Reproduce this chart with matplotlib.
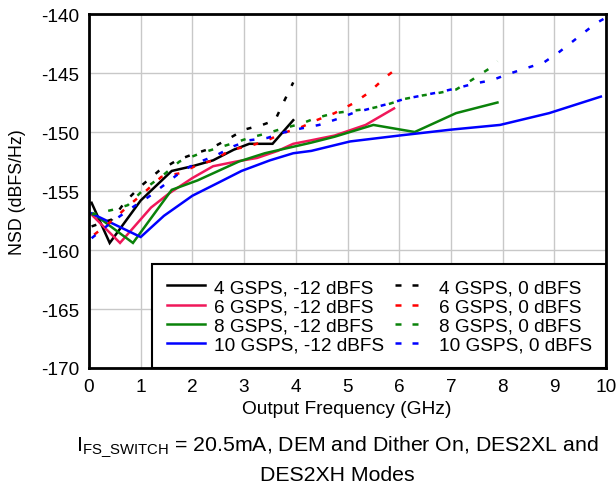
import matplotlib
matplotlib.use("Agg")
import matplotlib.pyplot as plt
from matplotlib.lines import Line2D

plt.rcParams['font.family'] = ['Liberation Sans', 'DejaVu Sans']
plt.rcParams['mathtext.fontset'] = 'custom'
plt.rcParams['mathtext.rm'] = 'Liberation Sans'
plt.rcParams['mathtext.it'] = 'Liberation Sans:italic'
plt.rcParams['axes.unicode_minus'] = False

#Data (GHz, dBFS/Hz)
f_4g_m12 = [0.05, 0.4, 1.0, 1.6, 2.0, 2.4, 2.8, 3.1, 3.55, 3.95]
nsd_4g_m12 = [-156.0, -159.4, -155.8, -153.3, -152.9, -152.4, -151.5, -151.0, -151.0, -149.0]

f_6g_m12 = [0.05, 0.6, 1.2, 1.55, 2.0, 2.4, 2.85, 3.25, 3.65, 3.95, 4.3, 4.75, 5.35, 5.9]
nsd_6g_m12 = [-157.0, -159.4, -156.4, -155.2, -153.9, -152.9, -152.5, -152.2, -151.6, -151.0, -150.7, -150.3, -149.4, -148.0]

f_8g_m12 = [0.08, 0.85, 1.6, 2.1, 2.5, 2.9, 3.4, 3.8, 4.3, 4.75, 5.5, 6.3, 7.1, 7.9]
nsd_8g_m12 = [-156.9, -159.4, -154.9, -154.1, -153.3, -152.5, -151.8, -151.4, -150.9, -150.4, -149.4, -150.0, -148.4, -147.5]

f_10g_m12 = [0.05, 1.0, 1.45, 2.0, 2.5, 2.95, 3.5, 3.95, 4.3, 5.05, 6.0, 7.0, 7.95, 8.9, 9.9]
nsd_10g_m12 = [-156.9, -158.9, -157.1, -155.4, -154.3, -153.3, -152.4, -151.8, -151.6, -150.8, -150.3, -149.8, -149.4, -148.4, -147.0]

f_4g_0 = [0.05, 0.45, 0.7, 1.0, 1.35, 1.7, 2.0, 2.35, 2.65, 3.0, 3.35, 3.6, 3.75, 3.95]
nsd_4g_0 = [-158.0, -157.4, -155.9, -154.6, -153.3, -152.4, -151.9, -151.4, -150.7, -149.8, -149.4, -149.0, -147.6, -145.8]

f_6g_0 = [0.1, 0.45, 0.75, 1.1, 1.4, 1.75, 2.1, 2.4, 2.75, 3.1, 3.45, 3.75, 4.1, 4.4, 4.75, 5.1, 5.4, 5.75, 5.9]
nsd_6g_0 = [-158.7, -157.5, -156.3, -155.0, -153.8, -153.5, -152.8, -152.4, -151.5, -151.2, -150.7, -150.1, -149.6, -149.0, -148.4, -147.6, -146.7, -145.3, -144.8]

f_8g_0 = [0.05, 0.45, 0.75, 1.05, 1.45, 1.75, 2.1, 2.45, 2.75, 3.1, 3.45, 3.75, 4.1, 4.4, 4.75, 5.1, 5.45, 5.75, 6.1, 6.45, 6.75, 7.1, 7.4, 7.75, 7.9]
nsd_8g_0 = [-157.0, -156.6, -156.2, -154.9, -153.6, -152.5, -151.9, -151.4, -151.0, -150.5, -150.1, -149.7, -149.3, -148.8, -148.4, -148.2, -148.0, -147.7, -147.2, -146.9, -146.7, -146.4, -145.6, -144.6, -144.0]

f_10g_0 = [0.05, 0.45, 0.8, 1.15, 1.45, 1.8, 2.1, 2.45, 2.8, 3.1, 3.45, 3.8, 4.1, 4.45, 4.8, 5.1, 5.45, 5.8, 6.1, 6.45, 6.8, 7.1, 7.45, 7.8, 8.1, 8.45, 8.8, 9.1, 9.45, 9.8, 10.0]
nsd_10g_0 = [-159.0, -157.6, -156.5, -155.5, -154.5, -153.3, -152.6, -152.0, -151.2, -150.7, -150.5, -150.0, -149.7, -149.4, -148.9, -148.4, -148.0, -147.6, -147.2, -146.9, -146.6, -146.3, -145.9, -145.6, -145.1, -144.6, -144.1, -143.2, -142.0, -140.8, -140.3]

x_ticks = [0, 1, 2, 3, 4, 5, 6, 7, 8, 9, 10]
y_ticks = [-170, -165, -160, -155, -150, -145, -140]

solid_series = [
  (f_4g_m12, nsd_4g_m12, "black", "4 GSPS, -12 dBFS"),
  (f_6g_m12, nsd_6g_m12, "#f0185a", "6 GSPS, -12 dBFS"),
  (f_8g_m12, nsd_8g_m12, "#0a820a", "8 GSPS, -12 dBFS"),
  (f_10g_m12, nsd_10g_m12, "#0000ff", "10 GSPS, -12 dBFS"),
]
dashed_series = [
  (f_4g_0, nsd_4g_0, "black", "4 GSPS, 0 dBFS"),
  (f_6g_0, nsd_6g_0, "#ff0000", "6 GSPS, 0 dBFS"),
  (f_8g_0, nsd_8g_0, "#0a820a", "8 GSPS, 0 dBFS"),
  (f_10g_0, nsd_10g_0, "#0000ff", "10 GSPS, 0 dBFS"),
]

fig = plt.figure(figsize=(6.16, 4.89), dpi=100)
ax = fig.add_axes([0.1445, 0.2454, 0.8393, 0.7239])

lw = 1.8
handles = []
for fx, ny, c, lab in solid_series:
  ax.plot(fx, ny, color=c, lw=lw, solid_joinstyle='miter')
  handles.append(Line2D([], [], color=c, lw=lw, label=lab))
for fx, ny, c, lab in dashed_series:
  ax.plot(fx, ny, color=c, lw=lw, linestyle=(0, (2.0, 4.8)))
  # two short dashes in the legend sample
  handles.append(Line2D([], [], color=c, lw=lw, linestyle=(5.2, (2.4, 4.4)), label=lab))

ax.set_xlim(0, 10)
ax.set_ylim(-170, -140)
ax.set_xticks(x_ticks)
ax.set_yticks(y_ticks)
ax.tick_params(length=0, labelsize=13.7, pad=7)
ax.grid(True, color="#c8c8c8", lw=1.0)
ax.set_axisbelow(True)
for s in ax.spines.values():
  s.set_linewidth(2.0)
  s.set_zorder(5)

leg = ax.legend(handles=handles, ncol=2, loc='lower right', bbox_to_anchor=(1, 0),
                borderaxespad=0, fontsize=13.7, frameon=True, fancybox=False,
                labelspacing=0.1, borderpad=0.75, handlelength=2.0,
                handletextpad=0.5, columnspacing=0.35)
leg.get_frame().set_edgecolor("black")
leg.get_frame().set_linewidth(1.5)
leg.get_frame().set_alpha(1)

fig.text(18/616, 1-192/489, "NSD (dBFS/Hz)", rotation=90, ha='center', va='center', fontsize=12.8)
fig.text(347/616, 1-410/489, "Output Frequency (GHz)", ha='center', va='center', fontsize=13.8)
fig.text(337/616, 1-447/489, r"I$_{\mathrm{FS\_SWITCH}}$ = 20.5mA, DEM and Dither On, DES2XL and",
         ha='center', va='center', fontsize=15.3)
fig.text(337/616, 1-476/489, "DES2XH Modes", ha='center', va='center', fontsize=15.3)

fig.savefig("out.png", dpi=100)
